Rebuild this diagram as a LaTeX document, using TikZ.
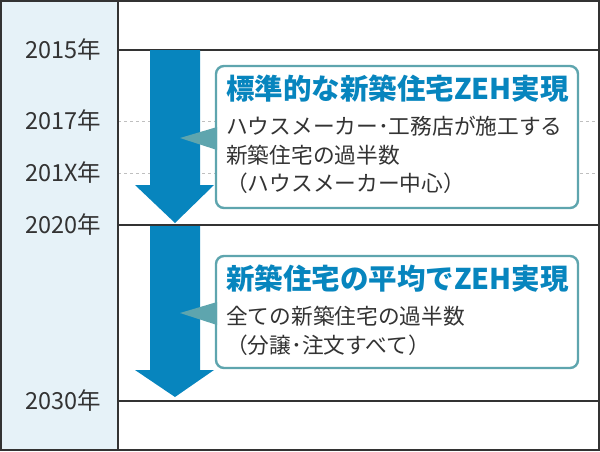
\documentclass[tikz,border=0pt]{standalone}
\usepackage{fontspec}
\setmainfont{Noto Sans CJK JP}
\begin{document}
\begin{tikzpicture}[x=1pt,y=-1pt,
  yr/.style={anchor=east,font=\fontsize{23.5}{23.5}\selectfont,text=black!80},
  hl/.style={draw=black!80,line width=1.4pt},
  dl/.style={draw=black!25,dashed,line width=0.9pt},
  bigarrow/.style={fill=arrowblue,draw=none},
  callout/.style={draw=teal1,line width=2.4pt,rounded corners=8pt,fill=white},
  ttl/.style={anchor=west,font=\fontsize{28.5}{28.5}\bfseries\selectfont,text=arrowblue,inner sep=0pt},
  bdy/.style={anchor=north west,align=left,font=\fontsize{21.7}{28.5}\selectfont,text=black!80,inner sep=0pt}]
\definecolor{arrowblue}{HTML}{0785BE}
\definecolor{teal1}{HTML}{5EA5AE}
\definecolor{leftbg}{HTML}{E6F2F8}
\useasboundingbox (0,0) rectangle (600,451);
\fill[leftbg] (0,0) rectangle (118,451);
\draw[dl] (118,121) -- (600,121);
\draw[dl] (118,173) -- (600,173);
\draw[hl] (118,50) -- (600,50);
\draw[hl] (118,225) -- (600,225);
\draw[hl] (118,401) -- (600,401);
\draw[black!80,line width=1.4pt] (118,0) -- (118,451);
\draw[black!80,line width=2pt] (1,1) rectangle (599,450);
\node[yr] (y1) at (105,50) {2015年};
\node[yr] (y2) at (105,121) {2017年};
\node[yr] (y3) at (105,173) {201X年};
\node[yr] (y4) at (105,225) {2020年};
\node[yr] (y5) at (105,401) {2030年};
\fill[bigarrow] (150,50) -- (200,50) -- (200,185) -- (214,185) -- (175,223) -- (135,185) -- (150,185) -- cycle;
\fill[bigarrow] (150,226) -- (200,226) -- (200,370) -- (214,370) -- (175,397) -- (135,370) -- (150,370) -- cycle;
\draw[callout] (216,66) rectangle (578,208);
\fill[teal1] (180,138) -- (217,127) -- (217,150) -- cycle;
\draw[callout] (216,256) rectangle (578,368);
\fill[teal1] (180,313) -- (217,302) -- (217,325) -- cycle;
\node[ttl] (t1) at (226,89) {標準的な新築住宅ZEH実現};
\node[bdy] (b1) at (226,116) {ハウスメーカー･工務店が施工する\\新築住宅の過半数\\（ハウスメーカー中心）};
\node[ttl] (t2) at (226,279) {新築住宅の平均でZEH実現};
\node[bdy] (b2) at (226,306) {全ての新築住宅の過半数\\（分譲･注文すべて）};
\end{tikzpicture}
\end{document}
